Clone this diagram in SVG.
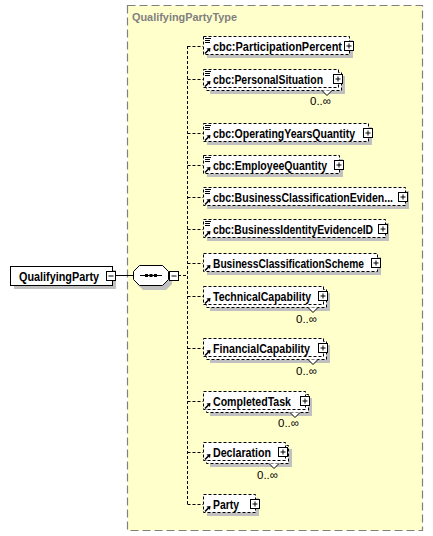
<svg xmlns="http://www.w3.org/2000/svg" width="433" height="536" viewBox="0 0 433 536">
<style>
.nm{font-family:"Liberation Sans",Arial,sans-serif;font-size:12px;font-weight:bold;fill:#000}
.card{font-family:"Liberation Sans",Arial,sans-serif;font-size:11.5px;fill:#000}
.ttl{font-family:"Liberation Sans",Arial,sans-serif;font-size:11.5px;font-weight:bold;fill:#808080}
.box{fill:#fff;stroke:#000;stroke-width:1}
.opt{fill:#fff;stroke:#000;stroke-width:1;stroke-dasharray:3,2}
.sh{fill:#c0c0c0}
.pm{fill:#fff;stroke:#000;stroke-width:1}
.pl{stroke:#000;stroke-width:1;fill:none}
.dl{stroke:#000;stroke-width:1;fill:none;stroke-dasharray:3,2}
.ic{stroke:#000;stroke-width:1;fill:none}
.notch{fill:#fff;stroke:#000;stroke-width:1}
</style>
<defs>
<g id="plus"><rect class="pm" x="0.5" y="0.5" width="9" height="9"/><path class="pl" d="M2.5,5H7.5M5,2.5V7.5"/></g>
<g id="lines"><path class="ic" d="M2,1.5H8M2,3.5H7M2,5.5H7"/></g>
<g id="arr"><path d="M2,-1.5L5.5,-5" stroke="#000" stroke-width="1.6" fill="none"/><polygon points="7.5,-7 3.5,-6.5 7,-3" fill="#000"/></g>
</defs>
<rect x="127.5" y="5.5" width="295" height="525" fill="#ffffcc" stroke="#808080" stroke-width="1.2" stroke-dasharray="8,4"/>
<text class="ttl" x="132" y="21" textLength="105" lengthAdjust="spacingAndGlyphs">QualifyingPartyType</text>

<g id="connectors">
<path class="pl" d="M115,275.5H133"/>
<path class="dl" d="M178,275.5H187.5"/>
<path class="dl" d="M187.5,46V504"/>
<path class="dl" d="M187.5,46.5H203M187.5,79.5H203M187.5,133.5H203M187.5,165.5H203M187.5,197.5H203M187.5,229.5H203M187.5,263.5H203M187.5,296.5H203M187.5,348.5H203M187.5,401.5H203M187.5,452.5H203M187.5,504.5H203"/>
</g>

<g id="QualifyingParty">
<rect class="sh" x="14" y="270" width="102" height="19"/>
<rect class="box" x="10.5" y="266.5" width="102" height="19"/>
<text class="nm" x="19" y="281" textLength="80" lengthAdjust="spacingAndGlyphs">QualifyingParty</text>
<rect class="pm" x="106.5" y="271.5" width="9" height="9"/><path class="pl" d="M108.5,276H113.5"/>
</g>

<g id="sequence">
<polygon class="sh" points="143,269 166,269 172,275 172,284 166,290 143,290 137,284 137,275"/>
<polygon class="box" points="139.5,265.5 162.5,265.5 168.5,271.5 168.5,279.5 162.5,285.5 139.5,285.5 133.5,279.5 133.5,271.5"/>
<path class="pl" d="M140,275.5H162"/>
<rect x="145" y="274" width="3" height="3" fill="#000"/>
<rect x="149.5" y="274" width="3" height="3" fill="#000"/>
<rect x="154" y="274" width="3" height="3" fill="#000"/>
<rect class="pm" x="169.5" y="271.5" width="9" height="9"/><path class="pl" d="M171.5,276H176.5"/>
</g>

<g id="n1">
<rect class="sh" x="207" y="40" width="146" height="18"/>
<rect class="opt" x="203.5" y="36.5" width="146" height="18"/>
<use href="#lines" x="203" y="37"/><use href="#arr" x="203" y="55"/>
<text class="nm" x="213" y="50.5" textLength="129" lengthAdjust="spacingAndGlyphs">cbc:ParticipationPercent</text>
<use href="#plus" x="344" y="41"/>
</g>

<g id="n2">
<rect class="sh" x="210" y="76" width="135" height="18"/>
<rect class="opt" x="206.5" y="72.5" width="135" height="18"/>
<rect class="opt" x="203.5" y="69.5" width="135" height="18"/>
<use href="#lines" x="203" y="70"/><use href="#arr" x="203" y="88"/>
<text class="nm" x="213" y="83.5" textLength="110" lengthAdjust="spacingAndGlyphs">cbc:PersonalSituation</text>
<use href="#plus" x="333" y="74"/>
<polyline class="notch" points="322,90.5 327,95.5 332,90.5"/>
<text class="card" x="331" y="105" text-anchor="end">0..∞</text>
</g>

<g id="n3">
<rect class="sh" x="207" y="127" width="165" height="18"/>
<rect class="opt" x="203.5" y="123.5" width="165" height="18"/>
<use href="#lines" x="203" y="124"/><use href="#arr" x="203" y="142"/>
<text class="nm" x="213" y="137.5" textLength="142" lengthAdjust="spacingAndGlyphs">cbc:OperatingYearsQuantity</text>
<use href="#plus" x="363" y="128"/>
</g>

<g id="n4">
<rect class="sh" x="207" y="159" width="136" height="18"/>
<rect class="opt" x="203.5" y="155.5" width="136" height="18"/>
<use href="#lines" x="203" y="156"/><use href="#arr" x="203" y="174"/>
<text class="nm" x="213" y="169.5" textLength="114" lengthAdjust="spacingAndGlyphs">cbc:EmployeeQuantity</text>
<use href="#plus" x="334" y="160"/>
</g>

<g id="n5">
<rect class="sh" x="207" y="191" width="202" height="18"/>
<rect class="opt" x="203.5" y="187.5" width="202" height="18"/>
<use href="#lines" x="203" y="188"/><use href="#arr" x="203" y="206"/>
<text class="nm" x="213" y="201.5" textLength="180" lengthAdjust="spacingAndGlyphs">cbc:BusinessClassificationEviden...</text>
<use href="#plus" x="398" y="192"/>
</g>

<g id="n6">
<rect class="sh" x="207" y="223" width="182" height="18"/>
<rect class="opt" x="203.5" y="219.5" width="182" height="18"/>
<use href="#lines" x="203" y="220"/><use href="#arr" x="203" y="238"/>
<text class="nm" x="213" y="233.5" textLength="160" lengthAdjust="spacingAndGlyphs">cbc:BusinessIdentityEvidenceID</text>
<use href="#plus" x="378" y="224"/>
</g>

<g id="n7">
<rect class="sh" x="207" y="257" width="174" height="18"/>
<rect class="opt" x="203.5" y="253.5" width="174" height="18"/>
<use href="#arr" x="203" y="272"/>
<text class="nm" x="213" y="267.5" textLength="151" lengthAdjust="spacingAndGlyphs">BusinessClassificationScheme</text>
<use href="#plus" x="371" y="258"/>
</g>

<g id="n8">
<rect class="sh" x="210" y="293" width="120" height="18"/>
<rect class="opt" x="206.5" y="289.5" width="120" height="18"/>
<rect class="opt" x="203.5" y="286.5" width="120" height="18"/>
<use href="#arr" x="203" y="305"/>
<text class="nm" x="213" y="300.5" textLength="98" lengthAdjust="spacingAndGlyphs">TechnicalCapability</text>
<use href="#plus" x="318" y="291"/>
<polyline class="notch" points="308,307.5 313,312.5 318,307.5"/>
<text class="card" x="317" y="323" text-anchor="end">0..∞</text>
</g>

<g id="n9">
<rect class="sh" x="210" y="345" width="120" height="18"/>
<rect class="opt" x="206.5" y="341.5" width="120" height="18"/>
<rect class="opt" x="203.5" y="338.5" width="120" height="18"/>
<use href="#arr" x="203" y="357"/>
<text class="nm" x="213" y="352.5" textLength="97" lengthAdjust="spacingAndGlyphs">FinancialCapability</text>
<use href="#plus" x="318" y="343"/>
<polyline class="notch" points="308,359.5 313,364.5 318,359.5"/>
<text class="card" x="317" y="375" text-anchor="end">0..∞</text>
</g>

<g id="n10">
<rect class="sh" x="210" y="398" width="102" height="18"/>
<rect class="opt" x="206.5" y="394.5" width="102" height="18"/>
<rect class="opt" x="203.5" y="391.5" width="102" height="18"/>
<use href="#arr" x="203" y="410"/>
<text class="nm" x="213" y="405.5" textLength="78" lengthAdjust="spacingAndGlyphs">CompletedTask</text>
<use href="#plus" x="300" y="396"/>
<polyline class="notch" points="290,412.5 295,417.5 300,412.5"/>
<text class="card" x="299" y="427" text-anchor="end">0..∞</text>
</g>

<g id="n11">
<rect class="sh" x="210" y="449" width="82" height="18"/>
<rect class="opt" x="206.5" y="445.5" width="82" height="18"/>
<rect class="opt" x="203.5" y="442.5" width="82" height="18"/>
<use href="#arr" x="203" y="461"/>
<text class="nm" x="213" y="456.5" textLength="58" lengthAdjust="spacingAndGlyphs">Declaration</text>
<use href="#plus" x="278" y="447"/>
<polyline class="notch" points="269,463.5 274,468.5 279,463.5"/>
<text class="card" x="278" y="479" text-anchor="end">0..∞</text>
</g>

<g id="n12">
<rect class="sh" x="207" y="498" width="52" height="18"/>
<rect class="opt" x="203.5" y="494.5" width="52" height="18"/>
<use href="#arr" x="203" y="513"/>
<text class="nm" x="213" y="508.5" textLength="26" lengthAdjust="spacingAndGlyphs">Party</text>
<use href="#plus" x="250" y="499"/>
</g>
</svg>
